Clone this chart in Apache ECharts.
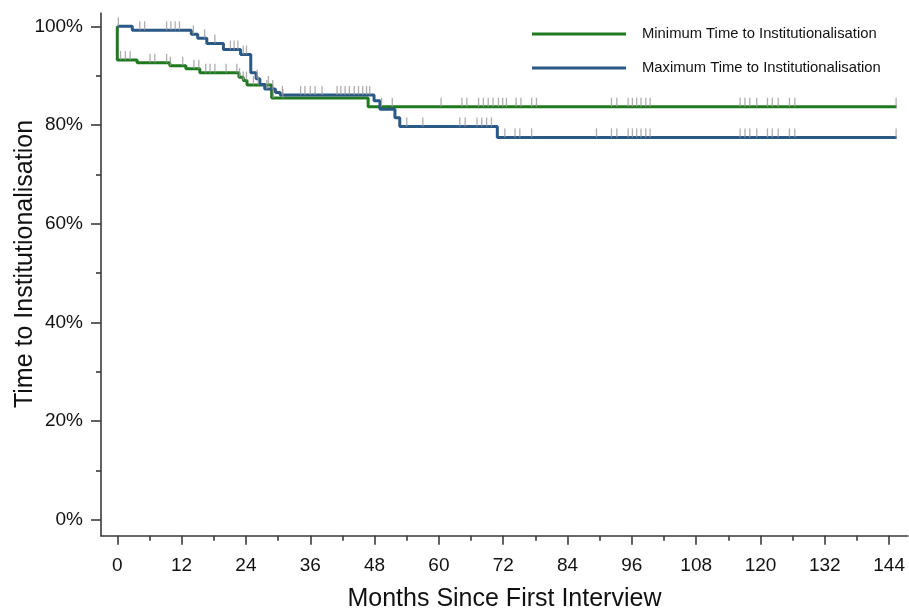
<!DOCTYPE html>
<html>
<head>
<meta charset="utf-8">
<script src="https://cdn.jsdelivr.net/npm/echarts@6/dist/echarts.min.js"></script>
<style>html,body{margin:0;padding:0;background:#fff}#c{width:909px;height:610px}</style>
</head>
<body>
<div id="c"></div>
<script>
// ---- data ----
var xTickValues = [0, 12, 24, 36, 48, 60, 72, 84, 96, 108, 120, 132, 144];
var xMinorTicks = [6, 18, 30, 42, 54, 66, 78, 90, 102, 114, 126, 138];
var yTickValues = [0, 20, 40, 60, 80, 100];
var yMinorTicks = [10, 30, 50, 70, 90];

var minName = 'Minimum Time to Institutionalisation';
var maxName = 'Maximum Time to Institutionalisation';

// step curves: time (months) and survival (%) after that time
var minTimes = [0, 0, 3.7, 9.8, 12.8, 15.4, 22.7, 23.5, 24.2, 28.8, 46.8, 145.4];
var minSurv  = [100, 93.2, 92.6, 92.0, 91.4, 90.6, 89.7, 89.0, 88.1, 85.5, 83.7, 83.7];

var maxTimes = [0, 2.8, 13.8, 15.0, 16.7, 19.8, 23.0, 24.9, 25.9, 26.6, 27.5, 29.5, 30.4, 47.9, 49.0, 51.8, 52.7, 70.9, 145.4];
var maxSurv  = [100, 99.2, 98.4, 97.6, 96.5, 95.3, 94.3, 90.6, 89.4, 88.2, 87.3, 86.6, 86.1, 84.9, 83.2, 81.5, 79.7, 77.5, 77.5];

// censoring times
var minCensor = [0.6, 1.5, 2.4, 6.1, 7.0, 9.2, 9.9, 12.2, 14.3, 15.2, 16.5, 17.3, 18.2, 20.3, 22.3, 22.8, 23.5, 24.1, 25.4, 26.3, 28.2, 29.1, 30.9, 49.3, 51.3, 60.4, 64.3, 65.2, 67.4, 68.3, 69.2, 70.1, 71.1, 71.9, 72.6, 74.4, 75.3, 77.3, 78.2, 92.2, 93.2, 95.3, 96.1, 96.9, 97.7, 98.6, 99.4, 116.2, 117.1, 118.0, 119.3, 121.3, 122.2, 123.3, 125.4, 126.4, 145.3];
var maxCensor = [0.2, 4.2, 5.1, 9.2, 10.0, 10.8, 11.6, 14.2, 16.3, 18.2, 21.1, 21.8, 22.5, 23.5, 24.1, 26.1, 27.9, 29.0, 30.8, 34.2, 35.0, 36.0, 36.9, 38.2, 41.0, 41.7, 42.5, 43.3, 44.2, 45.0, 45.8, 46.5, 47.1, 54.0, 57.0, 63.9, 64.9, 67.1, 68.0, 68.9, 69.8, 72.3, 74.2, 75.1, 77.3, 89.4, 92.2, 93.2, 95.3, 96.1, 96.9, 97.7, 98.6, 99.4, 116.2, 117.1, 118.0, 119.3, 121.3, 122.2, 123.3, 125.4, 126.4, 145.3];

// ---- helpers ----
function pairs(ts, ss) { return ts.map(function (t, i) { return [t, ss[i]]; }); }
function valueAt(ts, ss, t) {
  var v = ss[0];
  for (var i = 0; i < ts.length; i++) { if (ts[i] <= t) v = ss[i]; }
  return v;
}
function censorPts(cs, ts, ss) { return cs.map(function (t) { return [t, valueAt(ts, ss, t)]; }); }

var GREEN = '#1f7a1f', BLUE = '#2b5986', TICK = '#9a9a9a', AX = '#3a3a3a';
var FONT = 'Arial, "Liberation Sans", sans-serif';

var chart = echarts.init(document.getElementById('c'), null, {renderer: 'canvas'});
var xCommon = {type: 'value', min: -3.04, max: 147.5, splitLine: {show: false}};
var yCommon = {type: 'value', min: -3.2, max: 102.7, splitLine: {show: false}};

chart.setOption({
  animation: false,
  backgroundColor: '#fff',
  grid: {left: 101, right: 1.1, top: 13, bottom: 74.3, containLabel: false, outerBoundsMode: 'none'},
  xAxis: [
    Object.assign({}, xCommon, {
      position: 'bottom',
      axisLine: {show: true, onZero: false, lineStyle: {color: AX, width: 1.6}},
      axisTick: {show: true, length: 9, customValues: xTickValues, lineStyle: {color: AX, width: 1.6}},
      axisLabel: {show: true, customValues: xTickValues, margin: 21, color: '#111', fontSize: 19, fontFamily: FONT},
      name: 'Months Since First Interview', nameLocation: 'middle', nameGap: 51,
      nameTextStyle: {fontSize: 25, color: '#111', fontFamily: FONT}
    }),
    Object.assign({}, xCommon, {
      position: 'bottom',
      axisLine: {show: false, onZero: false},
      axisTick: {show: true, length: 5, customValues: xMinorTicks, lineStyle: {color: AX, width: 1.6}},
      axisLabel: {show: false}
    })
  ],
  yAxis: [
    Object.assign({}, yCommon, {
      position: 'left',
      axisLine: {show: true, onZero: false, lineStyle: {color: AX, width: 1.6}},
      axisTick: {show: true, length: 10, customValues: yTickValues, lineStyle: {color: AX, width: 1.6}},
      axisLabel: {show: true, customValues: yTickValues, margin: 18, color: '#111', fontSize: 19, fontFamily: FONT,
        formatter: function (v) { return v + '%'; }}
    }),
    Object.assign({}, yCommon, {
      position: 'left',
      axisLine: {show: false, onZero: false},
      axisTick: {show: true, length: 5, customValues: yMinorTicks, lineStyle: {color: AX, width: 1.6}},
      axisLabel: {show: false}
    })
  ],
  legend: {
    orient: 'vertical', left: 532, top: 25, padding: 0, itemGap: 16,
    icon: 'rect', itemWidth: 94, itemHeight: 3,
    selectedMode: false,
    data: [minName, maxName],
    textStyle: {fontSize: 14.8, lineHeight: 18, color: '#111', fontFamily: FONT, padding: [0, 0, 0, 11]}
  },
  graphic: [{
    type: 'text', x: 25, y: 264, rotation: Math.PI / 2,
    style: {text: 'Time to Institutionalisation', font: '25px ' + FONT, fill: '#111', align: 'center', verticalAlign: 'middle'}
  }],
  series: [
    {name: minName, type: 'line', step: 'end', data: pairs(minTimes, minSurv), showSymbol: false, symbol: 'none',
      lineStyle: {color: GREEN, width: 3}, itemStyle: {color: GREEN}, z: 3},
    {name: maxName, type: 'line', step: 'end', data: pairs(maxTimes, maxSurv), showSymbol: false, symbol: 'none',
      lineStyle: {color: BLUE, width: 3}, itemStyle: {color: BLUE}, z: 4},
    {name: 'minCensor', type: 'scatter', data: censorPts(minCensor, minTimes, minSurv), symbol: 'rect',
      symbolSize: [1.3, 9], symbolOffset: [0, -4.5], itemStyle: {color: TICK}, z: 5, silent: true},
    {name: 'maxCensor', type: 'scatter', data: censorPts(maxCensor, maxTimes, maxSurv), symbol: 'rect',
      symbolSize: [1.3, 9], symbolOffset: [0, -4.5], itemStyle: {color: TICK}, z: 5, silent: true}
  ]
});
</script>
</body>
</html>
